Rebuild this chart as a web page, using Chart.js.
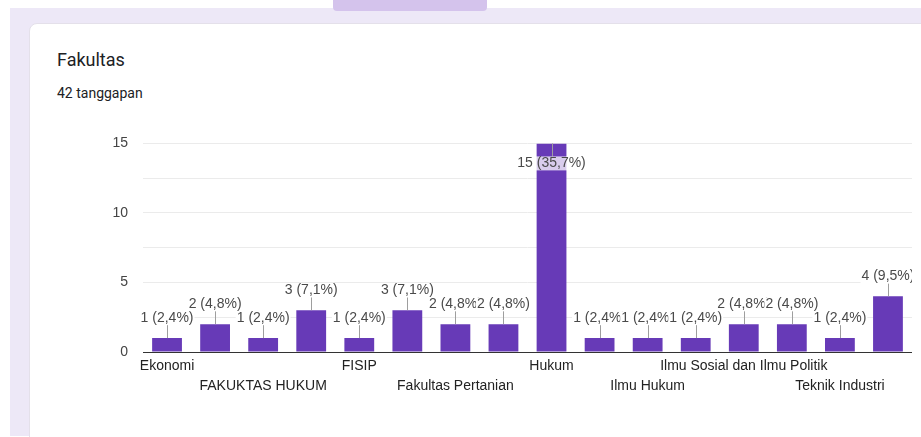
<!DOCTYPE html>
<html>
<head>
<meta charset="utf-8">
<script src="https://cdn.jsdelivr.net/npm/chart.js@4/dist/chart.umd.min.js"></script>
<style>
  html, body { margin: 0; padding: 0; background: #fff; }
  body { width: 921px; height: 437px; position: relative; overflow: hidden; font-family: Roboto, Arial, sans-serif; }
  #bg { position: absolute; left: 10px; top: 8px; right: 0; bottom: 1px; background: #ede8f7; }
  #tab { position: absolute; left: 333px; top: -6px; width: 154px; height: 17px; background: #d4c3ec; border-radius: 0 0 4px 4px; }
  #card { position: absolute; left: 29px; top: 23px; width: 920px; height: 420px; background: #fff; border-radius: 8px; border: 1px solid #e4e0ea; }
  #title { position: absolute; left: 57px; top: 49px; font-size: 18px; color: #202124; }
  #count { position: absolute; left: 57px; top: 85px; font-size: 14px; color: #202124; }
  #wrap { position: absolute; left: 40px; top: 120px; width: 872px; height: 295px; }
</style>
</head>
<body>
<div id="bg"></div>
<div id="tab"></div>
<div id="card"></div>
<div id="title">Fakultas</div>
<div id="count">42 tanggapan</div>
<div id="wrap"><canvas id="fakultas"></canvas></div>
<script>
const categories = [
  "Ekonomi", "Ekonomi dan Bisnis", "FAKUKTAS HUKUM", "FAKULTAS HUKUM",
  "FISIP", "Fakultas Hukum", "Fakultas Pertanian", "Fakultas Teknik",
  "Hukum", "ILMU HUKUM", "Ilmu Hukum", "Ilmu Komunikasi",
  "Ilmu Sosial dan Ilmu Politik", "Pertanian", "Teknik Industri", "Teknik Sipil"
]
const counts = [1, 2, 1, 3, 1, 3, 2, 2, 15, 1, 1, 1, 2, 2, 1, 4]
const yTicks = [0, 5, 10, 15]

const total = counts.reduce((a, b) => a + b, 0)

function labelText(v) {
  const pct = (v / total * 100).toFixed(1).replace(".", ",")
  return `${v} (${pct}%)`
}

// value labels with a leader line, like the forms summary chart
const valueLabels = {
  id: "valueLabels",
  afterDatasetsDraw(chart) {
    const ctx = chart.ctx
    const meta = chart.getDatasetMeta(0)
    const area = chart.chartArea
    ctx.save()
    ctx.font = "14px Arial"
    ctx.textAlign = "center"
    ctx.textBaseline = "middle"
    meta.data.forEach((bar, i) => {
      const v = counts[i]
      const txt = labelText(v)
      let lineEnd, ty, bgAlpha = 1
      if (bar.y - 27 < area.top) {
        lineEnd = bar.y + 13
        ty = bar.y + 20
        bgAlpha = 0.75
      } else {
        lineEnd = bar.y - 13
        ty = bar.y - 20
      }
      ctx.strokeStyle = "#9e9e9e"
      ctx.lineWidth = 1
      ctx.beginPath()
      ctx.moveTo(Math.round(bar.x) + 0.5, bar.y)
      ctx.lineTo(Math.round(bar.x) + 0.5, lineEnd)
      ctx.stroke()
      const w = ctx.measureText(txt).width
      ctx.fillStyle = `rgba(255,255,255,${bgAlpha})`
      ctx.fillRect(bar.x - w / 2 - 1, ty - 7, w + 2, 14)
      ctx.fillStyle = "#4a4a4a"
      ctx.fillText(txt, bar.x, ty)
    })
    ctx.restore()
  }
}

new Chart(document.getElementById("fakultas"), {
  type: "bar",
  data: {
    labels: categories,
    datasets: [{
      data: counts,
      backgroundColor: "#673ab7",
      barPercentage: 0.62,
      categoryPercentage: 1
    }]
  },
  options: {
    responsive: true,
    maintainAspectRatio: false,
    animation: false,
    layout: { padding: { top: 13, right: 0, bottom: 0, left: 0 } },
    scales: {
      x: {
        grid: { display: false, drawTicks: false },
        border: { display: true, color: "#333", width: 1 },
        afterFit: (scale) => { scale.height = 63 },
        ticks: {
          autoSkip: false,
          maxRotation: 0,
          minRotation: 0,
          padding: 4,
          color: "#222",
          font: { family: "Arial", size: 14, lineHeight: 1.43 },
          callback: (val, i) => {
            if (i % 2 === 1) return ""
            return i % 4 === 0 ? [categories[i], ""] : ["", categories[i]]
          }
        }
      },
      y: {
        min: 0,
        max: 15,
        border: { display: false },
        grid: { color: "#ebebeb", drawTicks: false },
        afterFit: (scale) => { scale.width = 103 },
        ticks: {
          stepSize: 2.5,
          padding: 15,
          color: "#444",
          font: { family: "Arial", size: 14 },
          callback: (v) => yTicks.includes(v) ? v : ""
        }
      }
    },
    plugins: {
      legend: { display: false },
      tooltip: { enabled: false }
    }
  },
  plugins: [valueLabels]
})
</script>
</body>
</html>
